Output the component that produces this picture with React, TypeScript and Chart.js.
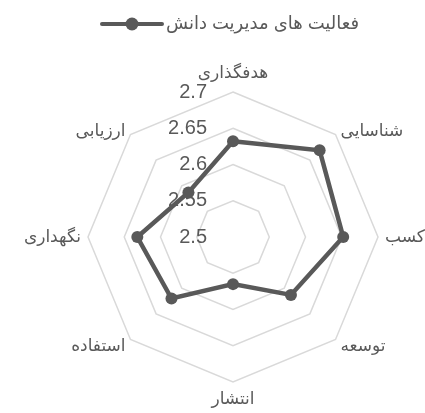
import React, { useEffect, useRef } from 'react';
import { Chart, registerables } from 'chart.js';

Chart.register(...registerables);

const categories = ['هدفگذاری', 'شناسایی', 'کسب', 'توسعه', 'انتشار', 'استفاده', 'نگهداری', 'ارزیابی'];
const seriesName = 'فعالیت های مدیریت دانش';
const seriesValues = [2.632, 2.669, 2.652, 2.613, 2.565, 2.62, 2.632, 2.587];
const tickValues = [2.5, 2.55, 2.6, 2.65, 2.7];
const tickLabels = ['2.5', '2.55', '2.6', '2.65', '2.7'];

const TEXT = '#595959';
const GRID = '#d9d9d9';
const SERIES = '#595959';
const FONT = 'Arial, "Liberation Sans", "DejaVu Sans", sans-serif';

function makeLegendSymbol(): HTMLCanvasElement {
  const c = document.createElement('canvas');
  c.width = 64;
  c.height = 14;
  const ctx = c.getContext('2d')!;
  ctx.strokeStyle = SERIES;
  ctx.lineWidth = 4;
  ctx.lineCap = 'round';
  ctx.beginPath();
  ctx.moveTo(2, 7);
  ctx.lineTo(62, 7);
  ctx.stroke();
  ctx.fillStyle = SERIES;
  ctx.beginPath();
  ctx.arc(32, 7, 6.5, 0, Math.PI * 2);
  ctx.fill();
  return c;
}

const labelsPlugin = {
  id: 'customRadarLabels',
  beforeInit(chart: any) {
    const legend = chart.legend;
    if (legend) {
      const fit = legend.fit;
      legend.fit = function () {
        fit.call(this);
        this.height += 49;
      };
    }
  },
  beforeDatasetsDraw(chart: any) {
    const scale = chart.scales.r;
    const ctx = chart.ctx;
    ctx.save();
    ctx.fillStyle = TEXT;
    ctx.font = `20px ${FONT}`;
    ctx.textAlign = 'right';
    ctx.textBaseline = 'middle';
    tickValues.forEach((v, i) => {
      const d = scale.getDistanceFromCenterForValue(v);
      ctx.fillText(tickLabels[i], scale.xCenter - 26, scale.yCenter - d);
    });
    ctx.font = `17px ${FONT}`;
    categories.forEach((lab, i) => {
      const dist = scale.drawingArea + 7;
      const pos = scale.getPointPosition(i, dist);
      const dx = pos.x - scale.xCenter;
      const dy = pos.y - scale.yCenter;
      if (Math.abs(dx) < 1) {
        ctx.textAlign = 'center';
        ctx.textBaseline = dy < 0 ? 'bottom' : 'top';
        ctx.fillText(lab, pos.x, pos.y + (dy < 0 ? -3 : 2));
      } else {
        ctx.textAlign = dx > 0 ? 'left' : 'right';
        ctx.textBaseline = 'middle';
        ctx.fillText(lab, pos.x, pos.y + (Math.abs(dy) > 1 ? 2 : 0));
      }
    });
    ctx.restore();
  },
};

export default function App() {
  const ref = useRef<HTMLCanvasElement>(null);
  useEffect(() => {
    if (!ref.current) return;
    const symbol = makeLegendSymbol();
    const chart = new Chart(ref.current, {
      type: 'radar',
      data: {
        labels: categories,
        datasets: [
          {
            label: seriesName,
            data: seriesValues,
            borderColor: SERIES,
            backgroundColor: SERIES,
            borderWidth: 4.5,
            pointRadius: 6,
            pointBackgroundColor: SERIES,
            pointBorderColor: SERIES,
            pointBorderWidth: 0,
            fill: false,
          },
        ],
      },
      options: {
        responsive: false,
        animation: false,
        devicePixelRatio: 1,
        layout: { padding: { left: 88, right: 47, top: 5, bottom: 31 } },
        plugins: {
          legend: {
            display: true,
            position: 'top',
            labels: {
              usePointStyle: true,
              pointStyleWidth: 50,
              color: TEXT,
              font: { size: 18, family: FONT },
              generateLabels: (c: any) => {
                const items = (Chart.defaults.plugins.legend.labels as any).generateLabels(c);
                items.forEach((it: any) => {
                  it.pointStyle = symbol;
                });
                return items;
              },
            },
          },
          tooltip: { enabled: false },
        },
        scales: {
          r: {
            min: 2.5,
            max: 2.7,
            ticks: { display: false, stepSize: 0.05 },
            grid: { color: GRID, lineWidth: 1.5 },
            angleLines: { display: false },
            pointLabels: { display: false },
          },
        },
      },
      plugins: [labelsPlugin],
    } as any);
    return () => chart.destroy();
  }, []);
  return (
    <div style={{ position: 'fixed', left: 0, top: 0, width: 425, height: 413, background: '#fff' }}>
      <canvas ref={ref} width={425} height={413} style={{ display: 'block' }} />
    </div>
  );
}
